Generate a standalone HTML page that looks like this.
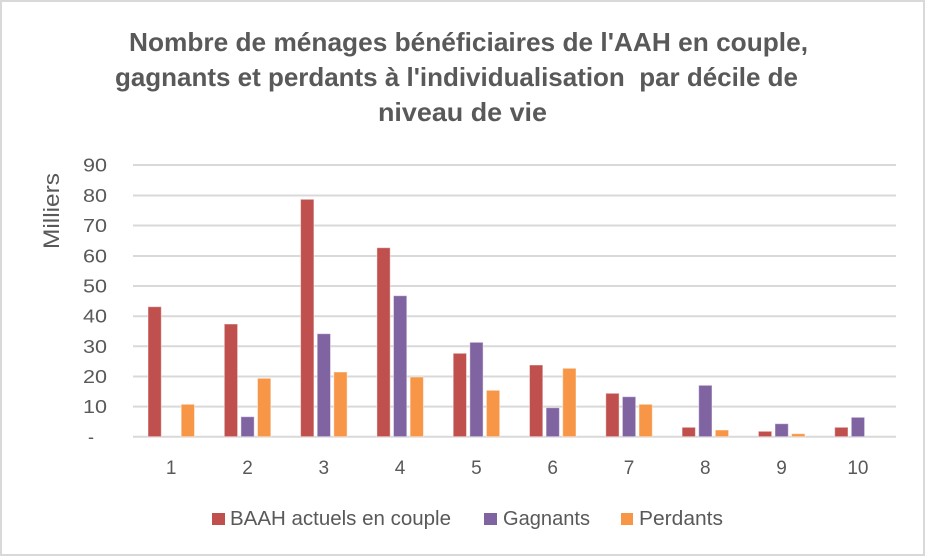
<!DOCTYPE html>
<html>
<head>
<meta charset="utf-8">
<style>
html,body{margin:0;padding:0;background:#fff;}
svg{display:block;}
text{font-family:"Liberation Sans",Arial,sans-serif;fill:#595959;}
</style>
</head>
<body>
<svg width="926" height="557" viewBox="0 0 926 557" xmlns="http://www.w3.org/2000/svg">
<rect x="0" y="0" width="926" height="557" fill="#fff"/>
<rect x="1" y="1" width="923" height="554" fill="none" stroke="#D9D9D9" stroke-width="2"/>

<!-- Title -->
<g font-weight="bold" font-size="26">
<text x="129" y="51" textLength="679" lengthAdjust="spacingAndGlyphs">Nombre de ménages bénéficiaires de l'AAH en couple,</text>
<text x="115" y="86" textLength="683" lengthAdjust="spacingAndGlyphs">gagnants et perdants à l'individualisation&#160; par décile de</text>
<text x="378" y="121" textLength="169" lengthAdjust="spacingAndGlyphs">niveau de vie</text>
</g>

<!-- Gridlines -->
<g stroke="#D9D9D9" stroke-width="2">
<line x1="133" x2="896" y1="165" y2="165"/>
<line x1="133" x2="896" y1="195.5" y2="195.5"/>
<line x1="133" x2="896" y1="225.5" y2="225.5"/>
<line x1="133" x2="896" y1="256" y2="256"/>
<line x1="133" x2="896" y1="286" y2="286"/>
<line x1="133" x2="896" y1="316.2" y2="316.2"/>
<line x1="133" x2="896" y1="346.3" y2="346.3"/>
<line x1="133" x2="896" y1="376.5" y2="376.5"/>
<line x1="133" x2="896" y1="406.6" y2="406.6"/>
<line x1="133" x2="896" y1="436.7" y2="436.7"/>
</g>

<!-- Y tick labels -->
<g font-size="18" text-anchor="end">
<text x="107" y="171.5" textLength="24" lengthAdjust="spacingAndGlyphs">90</text>
<text x="107" y="202" textLength="24" lengthAdjust="spacingAndGlyphs">80</text>
<text x="107" y="232" textLength="24" lengthAdjust="spacingAndGlyphs">70</text>
<text x="107" y="262.5" textLength="24" lengthAdjust="spacingAndGlyphs">60</text>
<text x="107" y="292.5" textLength="24" lengthAdjust="spacingAndGlyphs">50</text>
<text x="107" y="322.7" textLength="24" lengthAdjust="spacingAndGlyphs">40</text>
<text x="107" y="352.8" textLength="24" lengthAdjust="spacingAndGlyphs">30</text>
<text x="107" y="383" textLength="24" lengthAdjust="spacingAndGlyphs">20</text>
<text x="107" y="413.1" textLength="24" lengthAdjust="spacingAndGlyphs">10</text>
</g>
<text x="91" y="443" font-size="18" text-anchor="middle">-</text>

<!-- Axis title -->
<text transform="translate(59,211) rotate(-90)" x="0" y="0" font-size="22" text-anchor="middle" textLength="76" lengthAdjust="spacingAndGlyphs">Milliers</text>

<!-- Bars -->
<g stroke="#ffffff" stroke-opacity="0.45" stroke-width="1">
<g fill="#C0504D">
<rect x="148.0" y="306.7" width="13.3" height="130"/>
<rect x="224.3" y="324" width="13.3" height="112.7"/>
<rect x="300.6" y="199.3" width="13.3" height="237.4"/>
<rect x="376.9" y="247.7" width="13.3" height="189"/>
<rect x="453.2" y="353.3" width="13.3" height="83.4"/>
<rect x="529.5" y="365" width="13.3" height="71.7"/>
<rect x="605.8" y="393.3" width="13.3" height="43.4"/>
<rect x="682.1" y="427.3" width="13.3" height="9.4"/>
<rect x="758.4" y="431.3" width="13.3" height="5.4"/>
<rect x="834.7" y="427.3" width="13.3" height="9.4"/>
</g>
<g fill="#8064A2">
<rect x="240.9" y="416.7" width="13.3" height="20"/>
<rect x="317.2" y="333.7" width="13.3" height="103"/>
<rect x="393.5" y="295.7" width="13.3" height="141"/>
<rect x="469.8" y="342.3" width="13.3" height="94.4"/>
<rect x="546.1" y="407.7" width="13.3" height="29"/>
<rect x="622.4" y="396.7" width="13.3" height="40"/>
<rect x="698.7" y="385.3" width="13.3" height="51.4"/>
<rect x="775.0" y="423.7" width="13.3" height="13"/>
<rect x="851.3" y="417.3" width="13.3" height="19.4"/>
</g>
<g fill="#F79646">
<rect x="181.2" y="404.3" width="13.3" height="32.4"/>
<rect x="257.5" y="378.3" width="13.3" height="58.4"/>
<rect x="333.8" y="372" width="13.3" height="64.7"/>
<rect x="410.1" y="377" width="13.3" height="59.7"/>
<rect x="486.4" y="390.3" width="13.3" height="46.4"/>
<rect x="562.7" y="368.3" width="13.3" height="68.4"/>
<rect x="639.0" y="404.3" width="13.3" height="32.4"/>
<rect x="715.3" y="430" width="13.3" height="6.7"/>
<rect x="791.6" y="433.7" width="13.3" height="3"/>
</g>
</g>

<!-- X labels -->
<g font-size="19" text-anchor="middle">
<text x="171.2" y="474">1</text>
<text x="247.5" y="474">2</text>
<text x="323.8" y="474">3</text>
<text x="400.1" y="474">4</text>
<text x="476.4" y="474">5</text>
<text x="552.7" y="474">6</text>
<text x="629" y="474">7</text>
<text x="705.3" y="474">8</text>
<text x="781.6" y="474">9</text>
<text x="857.9" y="474">10</text>
</g>

<!-- Legend -->
<rect x="212" y="513" width="13" height="12" fill="#C0504D"/>
<text x="230" y="525" font-size="20" textLength="221" lengthAdjust="spacingAndGlyphs">BAAH actuels en couple</text>
<rect x="484" y="513" width="13" height="12" fill="#8064A2"/>
<text x="503" y="525" font-size="20" textLength="87" lengthAdjust="spacingAndGlyphs">Gagnants</text>
<rect x="621" y="513" width="12" height="12" fill="#F79646"/>
<text x="639" y="525" font-size="20" textLength="84" lengthAdjust="spacingAndGlyphs">Perdants</text>
</svg>
</body>
</html>
